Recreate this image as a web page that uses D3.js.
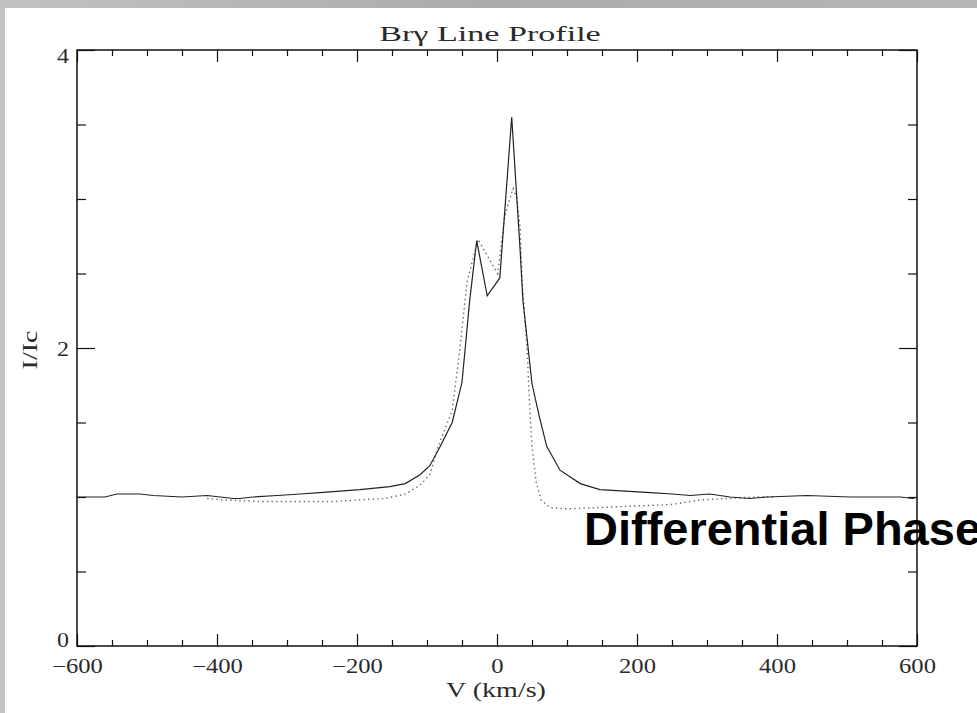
<!DOCTYPE html>
<html>
<head>
<meta charset="utf-8">
<style>
  body { margin: 0; background: #b9b9b9; overflow: hidden; }
  svg { display: block; }
  .tick text, .lbl { font-family: "Liberation Serif", serif; fill: #2a2a2a; }
  .overlay { font-family: "Liberation Sans", Arial, sans-serif; font-weight: bold; fill: #000; }
</style>
</head>
<body>
<div id="chart"></div>
<script src="https://cdn.jsdelivr.net/npm/d3@7/dist/d3.min.js"></script>
<script>

// observed Br-gamma profile (solid line)
var obsV = [-600, -560, -543, -510, -491, -450, -414, -377, -367, -349, -314, -281, -253, -196, -153, -131, -110, -96, -81, -64, -50, -39, -29, -14, 4, 21, 33, 37, 50, 60, 71, 90, 119, 147, 219, 250, 276, 304, 333, 361, 386, 443, 504, 550, 576, 594, 600];
var obsI = [1.0, 1.0, 1.02, 1.02, 1.01, 1.0, 1.01, 0.99, 0.99, 1.0, 1.01, 1.02, 1.03, 1.05, 1.07, 1.09, 1.15, 1.21, 1.34, 1.5, 1.77, 2.32, 2.72, 2.35, 2.47, 3.55, 2.66, 2.32, 1.76, 1.55, 1.34, 1.18, 1.09, 1.05, 1.03, 1.02, 1.01, 1.02, 1.0, 0.99, 1.0, 1.01, 1.0, 1.0, 1.0, 0.99, 1.0];

// model profile (dotted line)
var modV = [-414, -390, -339, -281, -230, -200, -160, -130, -110, -96, -84, -64, -53, -43, -27, -14, 1, 11, 16, 23, 28, 33, 36, 43, 47, 50, 56, 63, 75, 100, 150, 200, 250, 290, 330, 370, 395];
var modI = [0.99, 0.98, 0.97, 0.97, 0.97, 0.98, 0.99, 1.02, 1.08, 1.15, 1.34, 1.58, 1.99, 2.44, 2.73, 2.62, 2.5, 2.88, 2.97, 3.07, 3.01, 2.81, 2.44, 1.99, 1.58, 1.34, 1.1, 0.98, 0.93, 0.92, 0.93, 0.94, 0.95, 0.98, 0.99, 1.0, 1.0];

var xMajor = [-600, -400, -200, 0, 200, 400, 600];
var xMinor = [-550, -500, -450, -350, -300, -250, -150, -100, -50, 50, 100, 150, 250, 300, 350, 450, 500, 550];
var yMajor = [0, 2, 4];
var yMinor = [0.5, 1, 1.5, 2.5, 3, 3.5];

var W = 977, H = 713;
var margin = {top: 50, right: 60, bottom: 67, left: 77},
    width = W - margin.left - margin.right,
    height = H - margin.top - margin.bottom;

var svg = d3.select("#chart").append("svg")
    .attr("width", W)
    .attr("height", H);

// slide background: grey edge, white page
var grad = svg.append("defs").append("linearGradient")
    .attr("id", "edge").attr("x1", 0).attr("x2", 1);
grad.append("stop").attr("offset", "0%").attr("stop-color", "#c2c2c2");
grad.append("stop").attr("offset", "50%").attr("stop-color", "#ababab");
grad.append("stop").attr("offset", "100%").attr("stop-color", "#b6b6b6");
svg.append("rect").attr("width", W).attr("height", H).attr("fill", "url(#edge)");
svg.append("rect").attr("x", 5).attr("y", 8).attr("width", W - 5).attr("height", H - 8).attr("fill", "#fff");

var g = svg.append("g")
    .attr("transform", "translate(" + margin.left + "," + margin.top + ")");

var x = d3.scaleLinear().domain([-600, 600]).range([0, width]);
var y = d3.scaleLinear().domain([0, 4]).range([height, 0]);

// stretch text horizontally like the old plotting font
function stretch(sel, k) {
  sel.each(function() {
    var w = this.getComputedTextLength();
    d3.select(this).attr("textLength", w * k).attr("lengthAdjust", "spacingAndGlyphs");
  });
}

function tickGroup(axis, tx, ty) {
  var a = g.append("g").attr("transform", "translate(" + tx + "," + ty + ")").call(axis);
  a.select(".domain").remove();
  a.selectAll(".tick line").attr("stroke", "#111").attr("stroke-width", 1.2);
  return a;
}

// inward ticks on all four sides
tickGroup(d3.axisBottom(x).tickValues(xMinor).tickSizeInner(-6).tickSizeOuter(0).tickFormat(""), 0, height);
var xb = tickGroup(d3.axisBottom(x).tickValues(xMajor).tickSizeInner(-12).tickSizeOuter(0).tickPadding(13), 0, height);
tickGroup(d3.axisTop(x).tickValues(xMinor).tickSizeInner(-6).tickSizeOuter(0).tickFormat(""), 0, 0);
tickGroup(d3.axisTop(x).tickValues(xMajor).tickSizeInner(-12).tickSizeOuter(0).tickFormat(""), 0, 0);
tickGroup(d3.axisLeft(y).tickValues(yMinor).tickSizeInner(-9).tickSizeOuter(0).tickFormat(""), 0, 0);
var yl = tickGroup(d3.axisLeft(y).tickValues(yMajor).tickSizeInner(-18).tickSizeOuter(0).tickPadding(8).tickFormat(d3.format("d")), 0, 0);
tickGroup(d3.axisRight(y).tickValues(yMinor).tickSizeInner(-9).tickSizeOuter(0).tickFormat(""), width, 0);
tickGroup(d3.axisRight(y).tickValues(yMajor).tickSizeInner(-18).tickSizeOuter(0).tickFormat(""), width, 0);

xb.selectAll(".tick text").attr("font-size", 20).attr("font-family", null).call(stretch, 1.23);
yl.selectAll(".tick text").attr("font-size", 20).attr("font-family", null)
    .attr("dy", function(d) { return d === 0 ? "0em" : d === 4 ? "0.6em" : "0.35em"; })
    .call(stretch, 1.2);

// frame
g.append("rect")
    .attr("width", width).attr("height", height)
    .attr("fill", "none").attr("stroke", "#111").attr("stroke-width", 1.5);

var line = d3.line()
    .x(function(d) { return x(d[0]); })
    .y(function(d) { return y(d[1]); });

g.append("path")
    .datum(d3.zip(modV, modI))
    .attr("d", line)
    .attr("fill", "none")
    .attr("stroke", "#666")
    .attr("stroke-width", 1.4)
    .attr("stroke-dasharray", "1.4,3.2");

g.append("path")
    .datum(d3.zip(obsV, obsI))
    .attr("d", line)
    .attr("fill", "none")
    .attr("stroke", "#222")
    .attr("stroke-width", 1.2);

// titles
svg.append("text").attr("class", "lbl")
    .attr("x", 490).attr("y", 41)
    .attr("text-anchor", "middle").attr("font-size", 22)
    .text("Brγ Line Profile")
    .call(stretch, 1.55);

svg.append("text").attr("class", "lbl")
    .attr("x", 496).attr("y", 697)
    .attr("text-anchor", "middle").attr("font-size", 20)
    .text("V (km/s)")
    .call(stretch, 1.4);

svg.append("text").attr("class", "lbl")
    .attr("transform", "translate(37,350) rotate(-90)")
    .attr("text-anchor", "middle").attr("font-size", 20)
    .text("I/Ic")
    .call(stretch, 1.4);

// slide caption overlapping the plot, runs off the right edge as in the original
svg.append("text").attr("class", "overlay")
    .attr("x", 584).attr("y", 545)
    .attr("font-size", 47)
    .text("Differential Phase");

</script>
</body>
</html>
